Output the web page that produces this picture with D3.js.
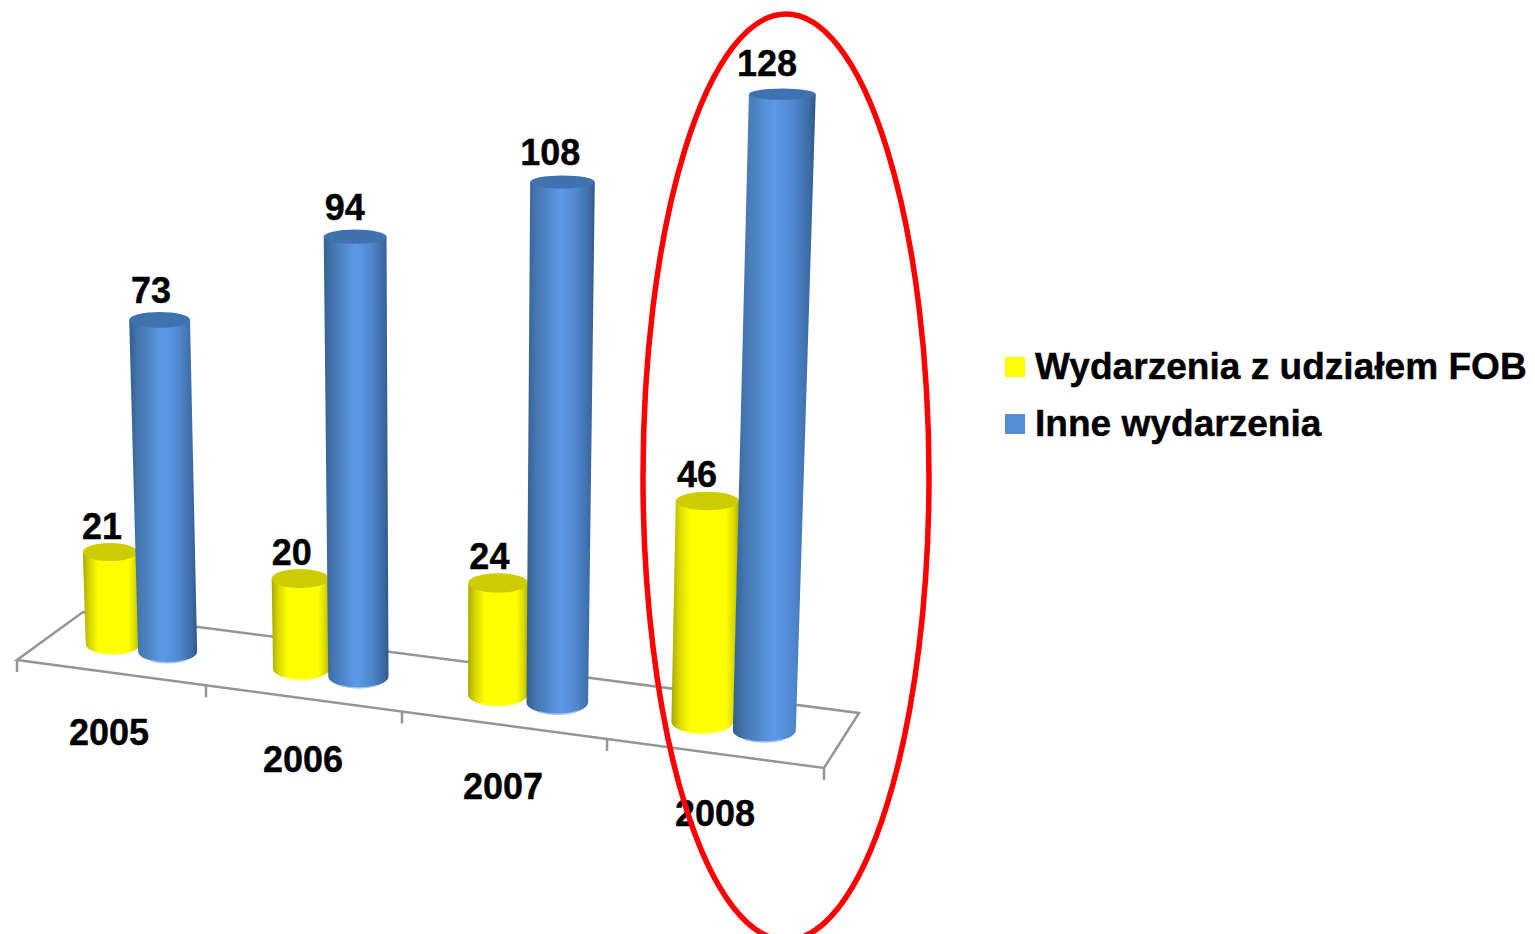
<!DOCTYPE html>
<html>
<head>
<meta charset="utf-8">
<script src="https://cdn.jsdelivr.net/npm/d3@7"></script>
<style>
  html,body{margin:0;padding:0;background:#fff;overflow:hidden}
  text{font-family:"Liberation Sans",Arial,sans-serif;font-weight:bold;font-size:36px;fill:#000;stroke:#000;stroke-width:.4px}
  .leg text{font-size:37.1px}
</style>
</head>
<body>
<div id="chart"></div>
<script>
const years      = ['2005','2006','2007','2008'];
const fobValues  = [21,20,24,46];
const otherValues= [73,94,108,128];
const seriesNames= ['Wydarzenia z udziałem FOB','Inne wydarzenia'];
const seriesIds  = ['fob','other'];
const legendCols = ['#ffff00','#558ed5'];
const topCols    = ['#cccc00','#3f72ae'];
const rimCols    = ['#ffff66','#a3c6f2'];

const WIDTH = 1535, HEIGHT = 934;
const svg = d3.select('#chart').append('svg')
  .attr('width',WIDTH).attr('height',HEIGHT);

/* gradients for the cylinder sides */
const defs = svg.append('defs');
function gradient(id, stops){
  const g = defs.append('linearGradient').attr('id',id)
    .attr('x1','0%').attr('x2','100%').attr('y1','0%').attr('y2','0%');
  stops.forEach(s=>g.append('stop').attr('offset',s[0]).attr('stop-color',s[1]));
}
gradient('grad-fob',  [['0%','#a8a800'],['12%','#d9d900'],['28%','#ffff00'],['80%','#ffff00'],['92%','#dada00'],['100%','#b0b000']]);
gradient('grad-other',[['0%','#33608f'],['14%','#4576b0'],['50%','#5c9ae8'],['75%','#4f85cb'],['92%','#3d6ca6'],['100%','#2f5885']]);

/* floor of the 3d plot: u runs along the years, depth runs front to back */
const frontX = d3.scaleLinear().domain([0,1,2,3,4]).range([17,206,402,607,824]);
const frontY = d3.scaleLinear().domain([17,824]).range([660,768]);
const backDx = d3.scaleLinear().domain([0,1,2,3,4]).range([66,60,55,49,35]);
const backDy = d3.scaleLinear().domain([0,4]).range([-48,-55]);
function floor(u,depth){
  const x = frontX(u);
  return [x + depth*backDx(u), frontY(x) + depth*backDy(u)];
}

const slot   = d3.scaleBand().domain(seriesIds).range([0.19,0.78]);
const yScale = d3.scaleLinear().domain([0,128]).range([0,636]);
const persp  = d3.scaleLinear().domain([0,765]).range([0.89,1]);
const lean   = d3.scaleLinear().domain([443,1443]).range([0,0.0881]);   // bars fan out upwards
const seriesPersp = [0.975,1];                                          // yellow row reads a bit shorter
const radius = [
  d3.scaleLinear().domain([111,705]).range([27,31]),
  d3.scaleLinear().domain([168,765]).range([29.5,31.5])
];

/* floor outline */
const line = d3.line();
const floorG = svg.append('g').attr('fill','none').attr('stroke','#959595').attr('stroke-width',2.5);
floorG.append('path')
  .attr('d',line([floor(0,0),floor(4,0),floor(4,1),floor(0,1)])+'Z');
floorG.selectAll('.tick').data(d3.range(0,5)).enter().append('line')
  .attr('class','tick')
  .attr('x1',d=>frontX(d)).attr('x2',d=>frontX(d))
  .attr('y1',d=>frontY(frontX(d))).attr('y2',d=>frontY(frontX(d))+12);

/* bars */
const bars = [];
years.forEach((y,i)=>{
  [fobValues[i],otherValues[i]].forEach((v,s)=>{
    const u = i + slot(seriesIds[s]) + slot.bandwidth()/2;
    const [xb,yb] = floor(u,0.5);
    const h = yScale(v)*persp(xb)*seriesPersp[s];
    const rb = radius[s](xb);
    const rt = rb*(1+0.06*h/634);
    bars.push({year:y,value:v,s,u,xb,yb,h,rb,rt,
      xt:xb+lean(xb)*h, yt:yb-h,
      ryb:rb*0.38, ryt:rt*(0.36-0.0003*h)});
  });
});

// per year: yellow first so the blue one sits over it
const barG = svg.selectAll('.bar').data(bars).enter().append('g').attr('class','bar');
barG.append('path')
  .attr('fill',d=>`url(#grad-${seriesIds[d.s]})`)
  .attr('d',d=>`M${d.xb-d.rb},${d.yb}L${d.xt-d.rt},${d.yt}L${d.xt+d.rt},${d.yt}L${d.xb+d.rb},${d.yb}`
              +`A${d.rb},${d.ryb} 0 0 1 ${d.xb-d.rb},${d.yb}Z`);
barG.append('path')
  .attr('fill','none').attr('stroke-width',1.5)
  .attr('stroke',d=>rimCols[d.s])
  .attr('d',d=>`M${d.xb-d.rb*0.6},${d.yb+d.ryb*0.8}A${d.rb},${d.ryb} 0 0 0 ${d.xb+d.rb*0.6},${d.yb+d.ryb*0.8}`);
barG.append('ellipse')
  .attr('cx',d=>d.xt).attr('cy',d=>d.yt)
  .attr('rx',d=>d.rt).attr('ry',d=>d.ryt)
  .attr('fill',d=>topCols[d.s]);

/* value labels */
svg.selectAll('.val').data(bars).enter().append('text')
  .attr('class','val').attr('text-anchor','middle')
  .attr('x',d=>d.xt-8-8*(d.h/634)*(d.u/4))
  .attr('y',d=>d.yt-(d.s===0?13:15)-3*d.h/634)
  .text(d=>d.value);

/* year labels */
const yearX = d3.scaleLinear().domain([0,1,2,3]).range([109,303,503,715]);
const yearY = d3.scaleLinear().domain([0,3]).range([745,826]);
svg.selectAll('.year').data(years).enter().append('text')
  .attr('class','year').attr('text-anchor','middle')
  .attr('x',(d,i)=>yearX(i)).attr('y',(d,i)=>yearY(i))
  .text(d=>d);

/* red ellipse round 2008 */
svg.append('ellipse')
  .attr('cx',786).attr('cy',477).attr('rx',143).attr('ry',463)
  .attr('fill','none').attr('stroke','#ff0000').attr('stroke-width',5.5);

/* legend */
const legendY = d3.scaleLinear().domain([0,1]).range([367,424]);
const leg = svg.selectAll('.leg').data(seriesNames).enter().append('g').attr('class','leg');
leg.append('rect')
  .attr('x',1005).attr('y',(d,i)=>legendY(i)-10)
  .attr('width',20).attr('height',20)
  .attr('fill',(d,i)=>legendCols[i]);
leg.append('text')
  .attr('x',1035).attr('y',(d,i)=>legendY(i)+12)
  .text(d=>d);
</script>
</body>
</html>
